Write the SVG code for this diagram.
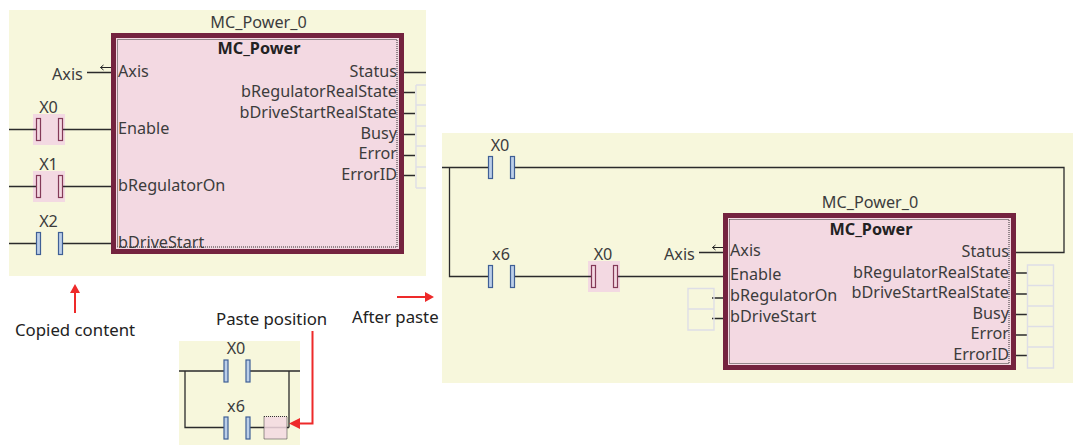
<svg xmlns="http://www.w3.org/2000/svg" width="1073" height="446" viewBox="0 0 1073 446">
<style>
text{font-family:"Noto Sans","Open Sans","DejaVu Sans",sans-serif;font-size:16.200px;fill:#3c3c3c}
.m{text-anchor:middle}.e{text-anchor:end}
.t{font-weight:bold;fill:#222;text-anchor:middle}
.c{font-size:16.800px;fill:#222}
.panel{fill:#f7f7dc}
.blk{fill:#f3d9e2;stroke:#74233f;stroke-width:5}
.dot{fill:none;stroke:#333;stroke-width:1;stroke-dasharray:1 1}
.hl{fill:#f3d9e2}
.bb{fill:#bccfe8;stroke:#3f5f96;stroke-width:1.2}
.bp{fill:#f3d9e2;stroke:#843a58;stroke-width:1.2}
.box{fill:none;stroke:#dedee6;stroke-width:1.4}
.w{fill:none;stroke:#2b2b2b;stroke-width:1.3}
.r{fill:none;stroke:#ee2a2a;stroke-width:2}
.rh{fill:#ee2a2a}
.ar{fill:none;stroke:#222;stroke-width:1}
</style>
<g id="panels">
<rect class="panel" x="9" y="10" width="417" height="266"/>
<rect class="panel" x="179" y="341" width="121" height="104"/>
<rect class="panel" x="442" y="133" width="631" height="250"/>
</g>
<g id="highlights">
<rect class="hl" x="33" y="114" width="32" height="31"/>
<rect class="hl" x="33" y="171" width="32" height="31"/>
<rect class="hl" x="588" y="261" width="32" height="31"/>
</g>
<g id="connectors">
<path class="w" d="M9 129.500H36M62 129.500H118M9 186.500H36M62 186.500H118M9 243.500H36M62 243.500H118M87 72.500H118M401 72.500H426M401 92.500H415M401 113.500H415M401 134.500H415M401 155.500H415M401 175.500H415"/>
<path class="w" d="M179 371H224M250 371H300M185 371V427.500H224M250 427.500H289M289 371V427.500"/>
<path class="w" d="M442 167.500H488M514 167.500H1064V252.500H1013M449.500 167.500V276.500H488M514 276.500H591M617 276.500H727M699 252.500H727M712 298H727M712 318.500H727M1013 273H1027M1013 294H1027M1013 314.500H1027M1013 335H1027M1013 355.500H1027"/>
<path class="ar" d="M100.500 67.500H114.500M100.500 67.500l3-2.500M100.500 67.500l3 2.500M114.500 67.500l-3-2.500M114.500 67.500l-3 2.500M712.500 247.500H726.500M712.500 247.500l3-2.500M712.500 247.500l3 2.500M726.500 247.500l-3-2.500M726.500 247.500l-3 2.500"/>
</g>
<g id="node-block-left">
<text class="m" x="258.500" y="27.500">MC_Power_0</text>
<rect class="blk" x="113.500" y="35.500" width="288" height="216"/>
<rect class="dot" x="117.500" y="39.500" width="279.500" height="207.500"/>
<text class="t" x="259" y="54">MC_Power</text>
<text x="118" y="76.500">Axis</text>
<text x="118" y="133.500">Enable</text>
<text x="118" y="190.500">bRegulatorOn</text>
<text x="118" y="247.500">bDriveStart</text>
<text class="e" x="397" y="76.500">Status</text>
<text class="e" x="397" y="96.500">bRegulatorRealState</text>
<text class="e" x="397" y="117.500">bDriveStartRealState</text>
<text class="e" x="397" y="138.500">Busy</text>
<text class="e" x="397" y="158.500">Error</text>
<text class="e" x="397" y="179.500">ErrorID</text>
<text x="52" y="79.500">Axis</text>
<path class="box" d="M416 85H426M416 105H426M416 126H426M416 146H426M416 167H426M416 188H426M416 85V188"/>
</g>
<g id="node-contacts-left">
<text class="m" x="48.500" y="112.500">X0</text>
<rect class="bp" x="36.500" y="118.500" width="4" height="22"/><rect class="bp" x="58.500" y="118.500" width="4" height="22"/>
<text class="m" x="48.500" y="169.500">X1</text>
<rect class="bp" x="36.500" y="175.500" width="4" height="22"/><rect class="bp" x="58.500" y="175.500" width="4" height="22"/>
<text class="m" x="48.500" y="226.500">X2</text>
<rect class="bb" x="36.500" y="232.500" width="4" height="22"/><rect class="bb" x="58.500" y="232.500" width="4" height="22"/>
</g>
<g id="node-paste-position">
<text class="m" x="236" y="353.500">X0</text>
<rect class="bb" x="224" y="360" width="4" height="22"/><rect class="bb" x="246" y="360" width="4" height="22"/>
<text class="m" x="236" y="411.500">x6</text>
<rect class="bb" x="224" y="417" width="4" height="22"/><rect class="bb" x="246" y="417" width="4" height="22"/>
<rect x="264" y="416.500" width="23" height="22.500" fill="#f3d9e2" fill-opacity=".85" stroke="#333" stroke-dasharray="1 1"/>
</g>
<g id="node-contacts-right">
<text class="m" x="500" y="150.500">X0</text>
<rect class="bb" x="488.500" y="156.500" width="4" height="22"/><rect class="bb" x="510.500" y="156.500" width="4" height="22"/>
<text class="m" x="501" y="259.500">x6</text>
<rect class="bb" x="488.500" y="265.500" width="4" height="22"/><rect class="bb" x="510.500" y="265.500" width="4" height="22"/>
<text class="m" x="603" y="259.500">X0</text>
<rect class="bp" x="591.500" y="265.500" width="4" height="22"/><rect class="bp" x="613.500" y="265.500" width="4" height="22"/>
</g>
<g id="node-block-right">
<text class="m" x="870" y="207.500">MC_Power_0</text>
<rect class="blk" x="725.500" y="215.500" width="288" height="152"/>
<rect class="dot" x="729.500" y="219.500" width="279.500" height="144"/>
<text class="t" x="871" y="235">MC_Power</text>
<text x="730" y="255.500">Axis</text>
<text x="730" y="280">Enable</text>
<text x="730" y="300.500">bRegulatorOn</text>
<text x="730" y="321.500">bDriveStart</text>
<text class="e" x="1009" y="256.500">Status</text>
<text class="e" x="1009" y="277.500">bRegulatorRealState</text>
<text class="e" x="1009" y="297.500">bDriveStartRealState</text>
<text class="e" x="1009" y="318.500">Busy</text>
<text class="e" x="1009" y="338.500">Error</text>
<text class="e" x="1009" y="359.500">ErrorID</text>
<text x="664" y="259.500">Axis</text>
<path class="box" d="M688 288.500H714V330H688ZM688 309H714M1027.500 265H1053.500V368H1027.500ZM1027.500 285.500H1053.500M1027.500 306H1053.500M1027.500 326.500H1053.500M1027.500 347H1053.500"/>
</g>
<g id="annotations">
<text class="c" x="15" y="336">Copied content</text>
<text class="c" x="216" y="324.500">Paste position</text>
<text class="c" x="352" y="323">After paste</text>
<path class="r" d="M75 313V292M397 297H426M312.500 331V423.500H297"/>
<path class="rh" d="M75 284l-5 9h10zM434 297l-9-5v10zM289 423.500l11-5.500v11z"/>
</g>
</svg>
